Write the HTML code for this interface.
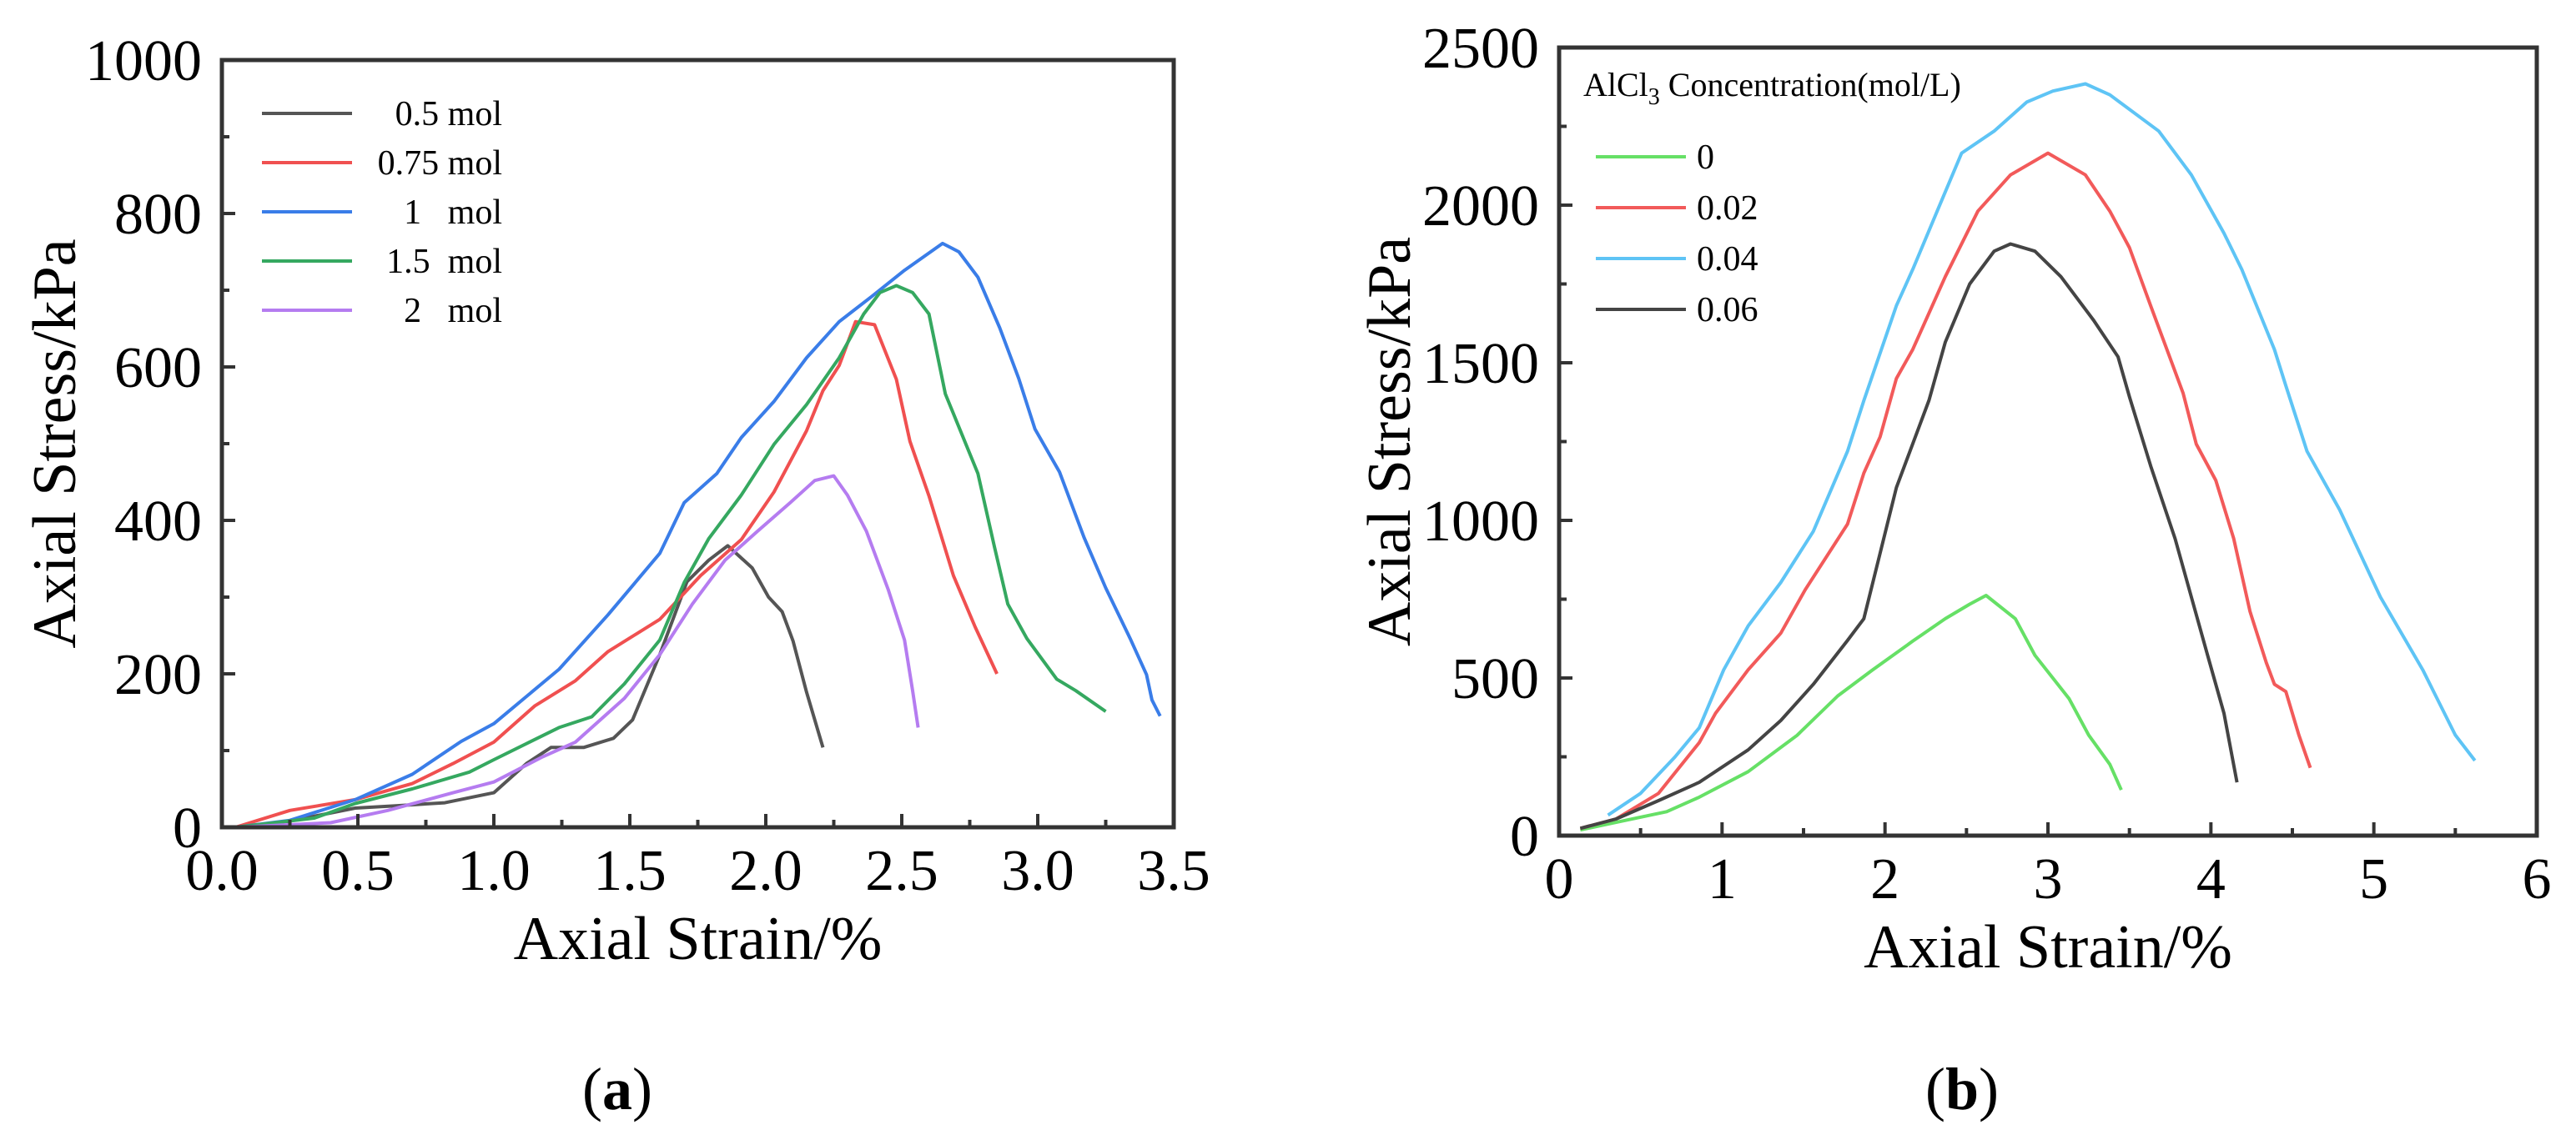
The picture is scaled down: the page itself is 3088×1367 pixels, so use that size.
<!DOCTYPE html>
<html><head><meta charset="utf-8"><style>
html,body{margin:0;padding:0;background:#fff;}
svg{display:block;font-family:"Liberation Serif",serif;}
</style></head><body>
<svg id="fig" width="3088" height="1367" viewBox="0 0 3088 1367" xmlns="http://www.w3.org/2000/svg">
<g id="pa"></g>
<g id="pb"></g>
<text x="740" y="1330" font-size="72" text-anchor="middle">(<tspan font-weight="bold">a</tspan>)</text>
<text x="2352" y="1330" font-size="72" text-anchor="middle">(<tspan font-weight="bold">b</tspan>)</text>
</svg>
<script>
// ---- Chart (a) data ----
const aNames = ["0.5 mol","0.75 mol","1   mol","1.5  mol","2   mol"];
const aColors = ["#555555","#f05050","#3a7de8","#35a860","#b57cf0"];
const aX05 = [0.05,0.25,0.49,0.64,0.82,1.0,1.12,1.21,1.33,1.44,1.51,1.61,1.71,1.79,1.86,1.95,2.01,2.06,2.10,2.15,2.21];
const aY05 = [0,8,25,28,32,45,83,104,104,116,140,225,320,348,367,338,300,281,243,176,104];
const aX075 = [0.05,0.25,0.49,0.70,0.85,1.0,1.15,1.30,1.42,1.61,1.76,1.91,2.03,2.15,2.21,2.27,2.33,2.40,2.48,2.53,2.60,2.69,2.77,2.85];
const aY075 = [0,22,36,57,83,111,158,191,229,271,328,375,437,517,569,602,659,655,584,503,432,328,261,200];
const aX1 = [0.05,0.25,0.49,0.70,0.88,1.0,1.24,1.42,1.61,1.70,1.82,1.91,2.03,2.15,2.27,2.39,2.51,2.65,2.71,2.78,2.86,2.93,2.99,3.08,3.17,3.25,3.34,3.40,3.42,3.45];
const aY1 = [0,9,36,69,112,135,206,277,357,423,461,508,555,612,659,692,726,761,750,717,651,585,519,463,378,312,246,199,166,145];
const aX15 = [0.05,0.34,0.49,0.70,0.91,1.0,1.24,1.36,1.48,1.61,1.70,1.79,1.91,2.03,2.15,2.27,2.36,2.42,2.48,2.54,2.60,2.66,2.78,2.84,2.89,2.96,3.07,3.14,3.25];
const aY15 = [0,12,31,50,72,88,130,144,187,244,319,376,433,499,551,612,669,697,706,697,669,565,461,367,291,246,193,178,151];
const aX2 = [0.05,0.40,0.61,0.85,1.0,1.18,1.30,1.48,1.61,1.73,1.85,1.97,2.09,2.18,2.25,2.30,2.37,2.45,2.51,2.54,2.56];
const aY2 = [0,6,22,45,59,92,111,168,225,291,348,386,423,452,458,433,386,310,244,178,130];
const aXTicks = ["0.0","0.5","1.0","1.5","2.0","2.5","3.0","3.5"];
const aYTicks = ["0","200","400","600","800","1000"];

// ---- Chart (b) data ----
const bNames = ["0","0.02","0.04","0.06"];
const bColors = ["#66e066","#f25a5a","#5ec4f5","#444444"];
const bX0 = [0.13,0.35,0.66,0.86,1.16,1.46,1.71,1.92,2.17,2.37,2.52,2.62,2.80,2.92,3.13,3.25,3.38,3.45];
const bY0 = [18,42,76,122,203,318,443,524,617,688,734,762,688,572,434,319,226,145];
const bX002 = [0.13,0.35,0.61,0.86,0.96,1.16,1.36,1.51,1.77,1.87,1.97,2.07,2.17,2.37,2.57,2.77,3.00,3.23,3.38,3.50,3.63,3.73,3.83,3.91,4.03,4.14,4.24,4.34,4.39,4.46,4.54,4.61];
const bY002 = [23,53,134,295,388,526,642,780,988,1150,1265,1450,1542,1773,1981,2096,2165,2096,1981,1865,1681,1542,1403,1242,1127,942,711,549,480,457,319,215];
const bX004 = [0.30,0.50,0.71,0.86,1.01,1.16,1.36,1.56,1.77,1.87,2.07,2.17,2.32,2.47,2.67,2.87,3.03,3.23,3.38,3.68,3.88,4.08,4.19,4.39,4.46,4.59,4.79,5.04,5.30,5.50,5.62];
const bY004 = [65,134,249,342,526,665,803,965,1219,1380,1681,1796,1981,2165,2235,2327,2362,2385,2350,2235,2096,1911,1796,1542,1427,1219,1034,757,526,319,238];
const bX006 = [0.13,0.35,0.61,0.86,1.16,1.36,1.56,1.77,1.87,1.97,2.07,2.27,2.37,2.52,2.67,2.77,2.92,3.08,3.28,3.43,3.50,3.63,3.78,3.88,3.98,4.08,4.16];
const bY006 = [23,53,111,169,272,365,480,619,688,896,1104,1381,1565,1750,1854,1877,1854,1773,1635,1519,1392,1173,942,757,572,388,169];
const bXTicks = ["0","1","2","3","4","5","6"];
const bYTicks = ["0","500","1000","1500","2000","2500"];

const NS = "http://www.w3.org/2000/svg";
function mk(parent, tag, attrs, text){
  const e = document.createElementNS(NS, tag);
  for (const k in attrs) e.setAttribute(k, attrs[k]);
  if (text !== undefined) e.textContent = text;
  parent.appendChild(e);
  return e;
}

function drawChart(g, cfg){
  const sx = v => cfg.x0 + (v - cfg.xmin) / (cfg.xmax - cfg.xmin) * (cfg.x1 - cfg.x0);
  const sy = v => cfg.y1 - (v - cfg.ymin) / (cfg.ymax - cfg.ymin) * (cfg.y1 - cfg.y0);
  cfg.series.forEach((s, i) => {
    let d = "";
    s.x.forEach((xv, j) => { d += (j ? "L" : "M") + sx(xv).toFixed(1) + " " + sy(s.y[j]).toFixed(1); });
    const p = mk(g, "path", {d: d, fill: "none", stroke: s.color, "stroke-width": 4, "stroke-linejoin": "round"});
    
    
  });
  const fr = mk(g, "rect", {x: cfg.x0, y: cfg.y0, width: cfg.x1 - cfg.x0, height: cfg.y1 - cfg.y0, fill: "none", stroke: "#333", "stroke-width": 5});
  
  
  const nx = cfg.xTicks.length;
  cfg.xTicks.forEach((lab, i) => {
    const v = parseFloat(lab);
    const x = sx(v);
    if (i > 0 && i < nx - 1) mk(g, "line", {x1: x, x2: x, y1: cfg.y1, y2: cfg.y1 - 16, stroke: "#333", "stroke-width": 4});
    if (i < nx - 1) {
      const xm = sx(v + cfg.xStep / 2);
      mk(g, "line", {x1: xm, x2: xm, y1: cfg.y1, y2: cfg.y1 - 9, stroke: "#333", "stroke-width": 4});
    }
    const t = mk(g, "text", {x: x, y: cfg.y1 + 75, "font-size": 70, "text-anchor": "middle"}, lab);
    
    
  });
  const ny = cfg.yTicks.length;
  cfg.yTicks.forEach((lab, i) => {
    const v = parseFloat(lab);
    const y = sy(v);
    if (i > 0 && i < ny - 1) mk(g, "line", {x1: cfg.x0, x2: cfg.x0 + 16, y1: y, y2: y, stroke: "#333", "stroke-width": 4});
    if (i < ny - 1) {
      const ym = sy(v + cfg.yStep / 2);
      mk(g, "line", {x1: cfg.x0, x2: cfg.x0 + 9, y1: ym, y2: ym, stroke: "#333", "stroke-width": 4});
    }
    const t = mk(g, "text", {x: cfg.x0 - 24, y: y + 24, "font-size": 70, "text-anchor": "end"}, lab);
    
    
  });
  const xt = mk(g, "text", {x: (cfg.x0 + cfg.x1) / 2, y: cfg.y1 + 158, "font-size": 74, "text-anchor": "middle"}, "Axial Strain/%");
  
  
  const yt = mk(g, "text", {x: 0, y: 0, "font-size": 74, "text-anchor": "middle", transform: "translate(" + cfg.ytx + "," + ((cfg.y0 + cfg.y1) / 2) + ") rotate(-90)"}, "Axial Stress/kPa");
  
  
}

const ga = document.getElementById("pa");
drawChart(ga, {x0: 266, x1: 1407, y0: 72, y1: 992, xmin: 0, xmax: 3.5, ymin: 0, ymax: 1000, xStep: 0.5, yStep: 200, ytx: 90,
  xTicks: aXTicks, yTicks: aYTicks,
  series: [{x: aX05, y: aY05, color: aColors[0]}, {x: aX075, y: aY075, color: aColors[1]}, {x: aX1, y: aY1, color: aColors[2]}, {x: aX15, y: aY15, color: aColors[3]}, {x: aX2, y: aY2, color: aColors[4]}]});
aNames.forEach((n, i) => {
  const y = 136 + i * 59;
  const ln = mk(ga, "line", {x1: 314, x2: 422, y1: y, y2: y, stroke: aColors[i], "stroke-width": 4});
  
  
  const t = mk(ga, "text", {x: 602, y: y + 14, "font-size": 42, "text-anchor": "end"}, n);
  
  
  t.style.whiteSpace = "pre";
});

const gb = document.getElementById("pb");
drawChart(gb, {x0: 1869, x1: 3041, y0: 57, y1: 1002, xmin: 0, xmax: 6, ymin: 0, ymax: 2500, xStep: 1, yStep: 500, ytx: 1690,
  xTicks: bXTicks, yTicks: bYTicks,
  series: [{x: bX0, y: bY0, color: bColors[0]}, {x: bX002, y: bY002, color: bColors[1]}, {x: bX004, y: bY004, color: bColors[2]}, {x: bX006, y: bY006, color: bColors[3]}]});
const lt = mk(gb, "text", {x: 1898, y: 115, "font-size": 40});


lt.innerHTML = 'AlCl<tspan font-size="28" dy="10">3</tspan><tspan dy="-10"> Concentration(mol/L)</tspan>';
bNames.forEach((n, i) => {
  const y = 188 + i * 61;
  const ln = mk(gb, "line", {x1: 1913, x2: 2021, y1: y, y2: y, stroke: bColors[i], "stroke-width": 4});
  
  
  const t = mk(gb, "text", {x: 2034, y: y + 14, "font-size": 42}, n);
  
  
});
</script>
</body></html>
